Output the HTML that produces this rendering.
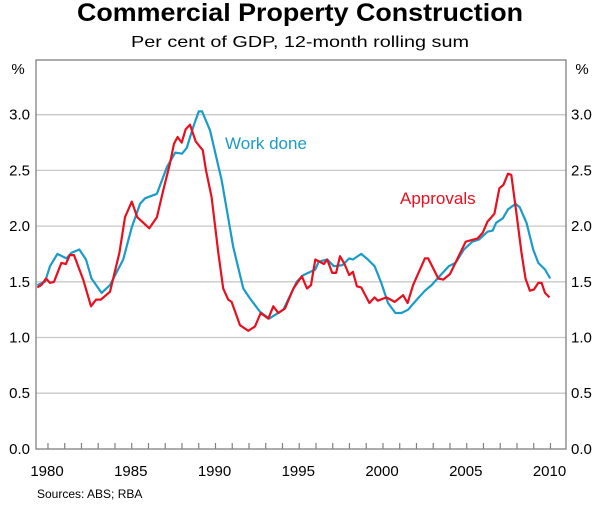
<!DOCTYPE html>
<html><head><meta charset="utf-8"><style>
body{margin:0;background:#fff;}
svg{display:block;font-family:"Liberation Sans",Arial,sans-serif;}
</style></head><body>
<svg id="chart" width="600" height="505" viewBox="0 0 600 505">
<text x="300" y="21" text-anchor="middle" font-size="25" font-weight="bold" fill="#000" textLength="446" lengthAdjust="spacingAndGlyphs">Commercial Property Construction</text>
<text x="300" y="47" text-anchor="middle" font-size="16" fill="#000" textLength="338" lengthAdjust="spacingAndGlyphs">Per cent of GDP, 12-month rolling sum</text>
<text x="18" y="74" text-anchor="middle" font-size="15">%</text>
<text x="582" y="74" text-anchor="middle" font-size="15">%</text>
<g id="grid"></g>
<g id="series"></g>
<text x="225" y="149" font-size="17" fill="#1a9bc8">Work done</text>
<text x="400" y="204" font-size="17" fill="#e8101e">Approvals</text>
<text x="37" y="498" font-size="12" fill="#000">Sources: ABS; RBA</text>
</svg>
<script>
const yTicks = [0, 0.5, 1, 1.5, 2, 2.5, 3, 3.5];
const yTickLabels = ["0.0","0.5","1.0","1.5","2.0","2.5","3.0",""];
const xLabelYears = [1980, 1985, 1990, 1995, 2000, 2005, 2010];
const workDates = [1979.86,1980.32,1980.62,1981.06,1981.6,1981.9,1982.37,1982.77,1983.1,1983.7,1984.2,1984.99,1985.5,1986,1986.3,1987.0,1987.6,1988.1,1988.5,1988.78,1989.17,1989.5,1989.7,1990.17,1990.87,1991.56,1992.16,1992.56,1993.16,1993.71,1994.55,1995.35,1995.75,1996.46,1996.66,1997.17,1997.57,1998.08,1998.48,1998.7,1999.2,1999.6,2000.0,2000.4,2000.8,2001.24,2001.6,2002.0,2002.4,2003.0,2003.4,2004.0,2004.43,2004.83,2005.33,2005.84,2006.24,2006.74,2007.05,2007.25,2007.65,2007.96,2008.42,2008.66,2009.07,2009.47,2009.77,2010.17,2010.48];
const workValues = [1.47,1.50,1.64,1.75,1.71,1.76,1.79,1.70,1.53,1.40,1.47,1.70,1.99,2.20,2.25,2.29,2.53,2.66,2.65,2.70,2.89,3.03,3.03,2.86,2.41,1.81,1.44,1.35,1.23,1.17,1.25,1.50,1.56,1.61,1.68,1.70,1.64,1.65,1.71,1.70,1.75,1.70,1.64,1.49,1.31,1.22,1.22,1.25,1.32,1.42,1.47,1.57,1.64,1.67,1.79,1.86,1.88,1.95,1.96,2.03,2.07,2.15,2.20,2.17,2.03,1.79,1.67,1.61,1.53];
const apprDates = [1979.86,1980.1,1980.38,1980.62,1980.86,1981.3,1981.57,1981.8,1982.05,1982.6,1983.07,1983.37,1983.65,1984.2,1984.76,1985.1,1985.5,1985.83,1986.55,1987,1987.38,1987.78,1988.02,1988.24,1988.48,1988.72,1988.98,1989.32,1989.74,1989.93,1990.27,1990.67,1990.96,1991.26,1991.46,1991.96,1992.46,1992.86,1993.2,1993.65,1993.95,1994.25,1994.65,1995.15,1995.65,1995.96,1996.2,1996.46,1996.97,1997.17,1997.47,1997.7,1997.93,1998.2,1998.48,1998.7,1998.94,1999.2,1999.69,2000.0,2000.19,2000.7,2001.2,2001.7,2001.97,2002.3,2003.0,2003.2,2003.8,2004.1,2004.5,2005.44,2006.15,2006.45,2006.74,2007.15,2007.45,2007.69,2007.96,2008.16,2008.47,2008.77,2009.01,2009.27,2009.5,2009.77,2009.97,2010.17,2010.44];
const apprValues = [1.45,1.47,1.53,1.49,1.50,1.67,1.66,1.74,1.74,1.52,1.28,1.34,1.34,1.41,1.76,2.08,2.22,2.08,1.98,2.08,2.32,2.56,2.74,2.80,2.75,2.87,2.91,2.76,2.68,2.50,2.26,1.76,1.44,1.34,1.32,1.11,1.06,1.10,1.22,1.17,1.28,1.22,1.26,1.44,1.55,1.44,1.47,1.70,1.66,1.70,1.58,1.58,1.73,1.66,1.56,1.59,1.46,1.45,1.31,1.36,1.33,1.36,1.32,1.38,1.31,1.47,1.71,1.71,1.53,1.52,1.57,1.86,1.89,1.94,2.04,2.11,2.34,2.37,2.47,2.46,2.11,1.76,1.53,1.42,1.43,1.49,1.49,1.40,1.36];

const L = 36, R = 566, T = 60, B = 449;
const NS = 'http://www.w3.org/2000/svg';
function xs(t){ return 48 + (t - 1980.5) * 16.75; }
function ys(v){ return 114.7 + (3 - v) * 111.4; }
function mk(tag, attrs, parent){ const e = document.createElementNS(NS, tag); for (const k in attrs) e.setAttribute(k, attrs[k]); parent.appendChild(e); return e; }
const grid = document.getElementById('grid');
yTicks.forEach((v, i) => {
  if (v > 0 && v < 3.5) {
    const g = mk('line', {x1:L, x2:R, y1:ys(v), y2:ys(v), stroke:'#c8c8c8', 'stroke-width':1.3}, grid);
    
    
  }
  if (yTickLabels[i]) {
    const a = mk('text', {x:30, y:ys(v)+5, 'text-anchor':'end', 'font-size':15}, grid);
    a.textContent = yTickLabels[i];
    
    
    const b = mk('text', {x:571, y:ys(v)+5, 'text-anchor':'start', 'font-size':15}, grid);
    b.textContent = yTickLabels[i];
    
    
  }
});
const frame = mk('rect', {x:L, y:T, width:R-L, height:B-T, fill:'none', stroke:'#808080', 'stroke-width':1.3}, grid);


for (let yr = 1981; yr <= 2011; yr++) {
  const x = xs(yr) - 8.4;
  if (x <= L || x >= R) continue;
  const tk = mk('line', {x1:x, x2:x, y1:B, y2:B-6, stroke:'#808080', 'stroke-width':1.2}, grid);
  
  
}
xLabelYears.forEach(yr => {
  const t = mk('text', {x:xs(yr+0.5)-1, y:476, 'text-anchor':'middle', 'font-size':15}, grid);
  t.textContent = yr;
  
  
});
const series = document.getElementById('series');
function line(dates, vals, color, name){
  const d = dates.map((t, i) => (i ? 'L' : 'M') + xs(t).toFixed(1) + ',' + ys(vals[i]).toFixed(1)).join('');
  const p = mk('path', {d:d, fill:'none', stroke:color, 'stroke-width':2.2, 'stroke-linejoin':'round'}, series);
  
  
}
line(workDates, workValues, '#1a9bc8', 'work-done-line');
line(apprDates, apprValues, '#e8101e', 'approvals-line');
</script>
</body></html>
